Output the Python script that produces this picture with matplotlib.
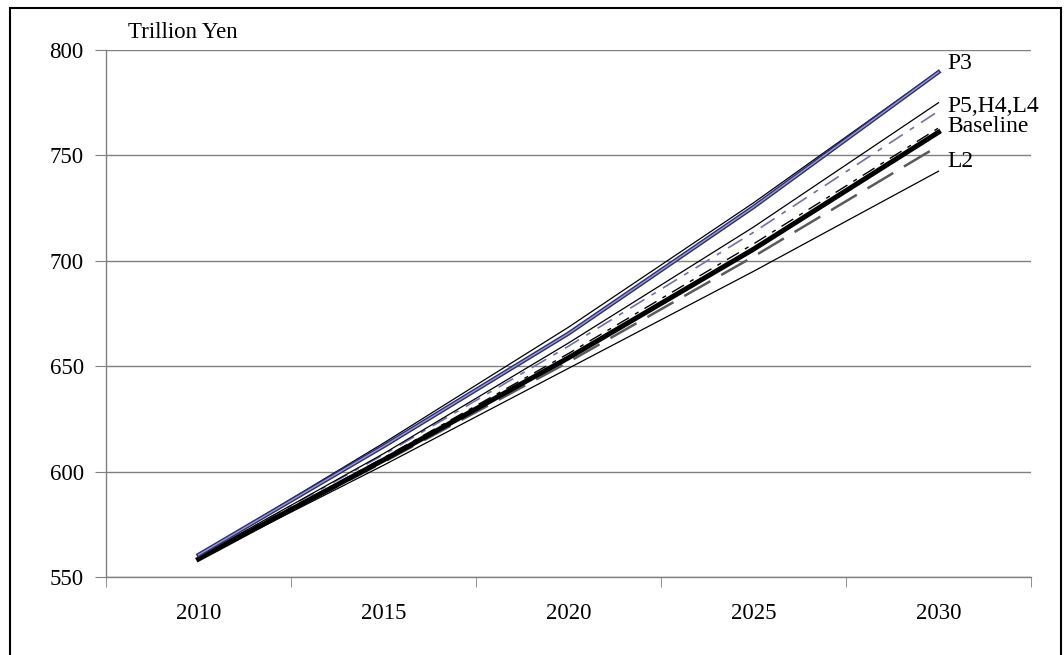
import matplotlib
matplotlib.use("Agg")
import matplotlib.pyplot as plt
from matplotlib.patches import Rectangle
from matplotlib.ticker import FixedLocator

plt.rcParams['font.family'] = ['Liberation Serif', 'DejaVu Serif']

years = ["2010", "2015", "2020", "2025", "2030"]
y_ticks = [550, 600, 650, 700, 750, 800]

upper_thin = [560.5, 613.5, 668.5, 727.5, 790.0]
p3 = [560.5, 612.0, 665.5, 725.5, 789.5]
p5_h4_l4 = [559.5, 608.5, 661.0, 716.0, 775.0]
blue_dashed = [559.5, 608.0, 659.5, 713.5, 771.0]
black_dashed = [559.0, 606.5, 656.0, 708.0, 763.0]
baseline = [558.5, 605.5, 654.0, 705.5, 761.0]
l2 = [558.5, 604.5, 652.0, 702.0, 754.5]
lower_thin = [558.5, 603.0, 649.0, 695.0, 742.5]

end_labels = ["P3", "P5,H4,L4", "Baseline", "L2"]
end_label_y = [793.6, 773.4, 763.5, 747.3]

fig = plt.figure(figsize=(10.64, 6.55), dpi=100)
ax = fig.add_axes([106/1064, 1-577/655, (1031-106)/1064, (577-50)/655])

x = list(range(len(years)))

ax.plot(x, lower_thin, color='black', lw=0.9, zorder=3)
ax.plot(x, l2, color='#5a5a5a', lw=1.8, dashes=(12, 5), zorder=3)
ax.plot(x, black_dashed, color='black', lw=1.0, dashes=(10, 5, 3, 5), zorder=3)
ax.plot(x, baseline, color='black', lw=3.6, zorder=4)
ax.plot(x, blue_dashed, color='#7070B0', lw=1.2, dashes=(10, 5, 3, 5), zorder=3)
ax.plot(x, p5_h4_l4, color='black', lw=0.9, zorder=3)
ax.plot(x, p3, color='#2E2E70', lw=3.0, zorder=4)
ax.plot(x, p3, color='#9A9AD0', lw=1.0, zorder=5)
ax.plot(x, upper_thin, color='black', lw=0.9, zorder=3)

for lab, yy in zip(end_labels, end_label_y):
    ax.text(4.05, yy, lab, fontsize=17, va='center', ha='left', clip_on=False)

ax.set_xlim(-0.5, 4.5)
ax.set_ylim(550, 800)
ax.set_yticks(y_ticks)
ax.set_xticks(x)
ax.set_xticklabels(years)
ax.xaxis.set_minor_locator(FixedLocator([i - 0.5 for i in range(len(years) + 1)]))
ax.tick_params(axis='x', which='major', length=0, pad=19, labelsize=16.5)
ax.tick_params(axis='x', which='minor', length=7, color='#808080', direction='out')
ax.tick_params(axis='y', length=8, color='#808080', pad=8, labelsize=16.5)

ax.grid(axis='y', color='#808080', lw=1.0, zorder=1)
ax.set_axisbelow(True)
for s in ['top', 'right']:
    ax.spines[s].set_visible(False)
for s in ['left', 'bottom']:
    ax.spines[s].set_color('#808080')
    ax.spines[s].set_linewidth(1.0)

fig.text(128/1064, 1-33/655, "Trillion Yen", fontsize=16.5, va='center', ha='left')

fig.patches.append(Rectangle((10/1064, -0.1), 1051/1064, 1.1 - 8/655,
                             transform=fig.transFigure, fill=False,
                             edgecolor='black', lw=1.5))

fig.savefig("out.png", dpi=100)
